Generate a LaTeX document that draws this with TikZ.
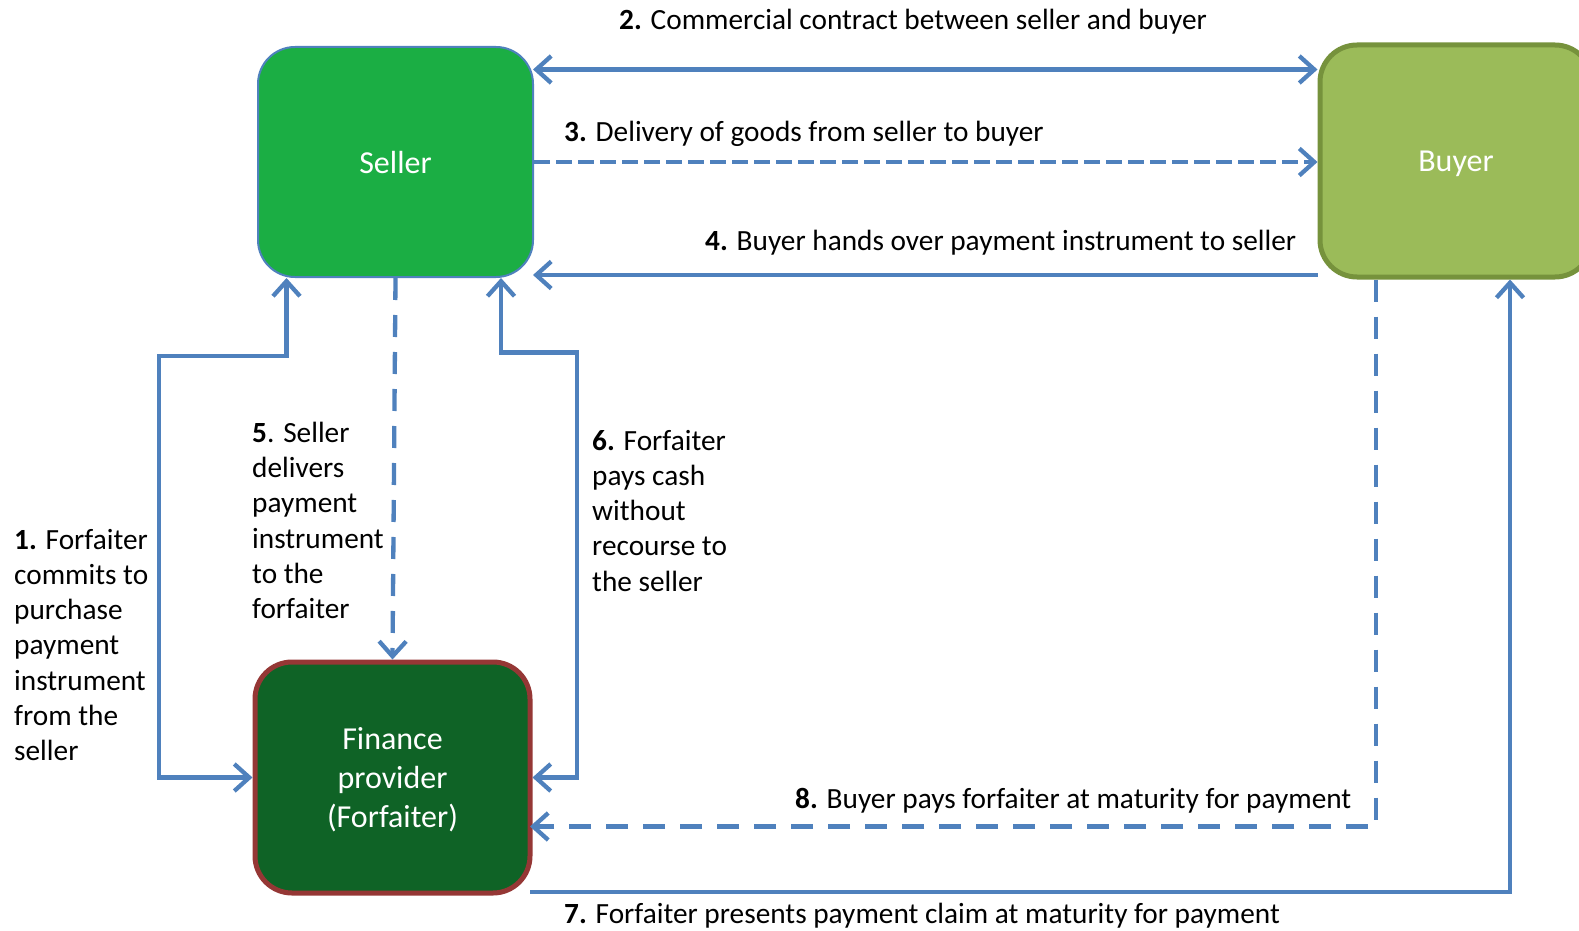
\documentclass[tikz,border=0pt]{standalone}
\usepackage{fontspec}
\setmainfont{Carlito}
\usetikzlibrary{arrows.meta}
\definecolor{arrblue}{HTML}{4F81BD}
\definecolor{sellerfill}{HTML}{1BAE44}
\definecolor{buyerfill}{HTML}{9BBB59}
\definecolor{buyerline}{HTML}{76923C}
\definecolor{finfill}{HTML}{0F6326}
\definecolor{finline}{HTML}{953735}
\tikzset{
  box/.style={rectangle, rounded corners=37pt, text=white, align=center,
    font=\fontsize{32}{39}\selectfont, inner sep=0pt, text depth=0pt},
  arr/.style={draw=arrblue, line width=4.3pt,
    arrows={-Straight Barb[length=15pt,width=27pt,line width=4.3pt]}},
  dual/.style={draw=arrblue, line width=4.3pt,
    arrows={Straight Barb[length=15pt,width=27pt,line width=4.3pt]-Straight Barb[length=15pt,width=27pt,line width=4.3pt]}},
  shortdash/.style={dash pattern=on 16pt off 6pt},
  longdash/.style={dash pattern=on 22pt off 15pt},
  lbl/.style={inner sep=0pt, font=\fontsize{29.3}{35.2}\selectfont, align=left, text=black}
}
\begin{document}
\begin{tikzpicture}[x=1pt,y=-1pt]
\useasboundingbox (0,0) rectangle (1579,931);
% boxes
\node[box, fill=sellerfill, draw=arrblue, line width=2pt, minimum width=275pt, minimum height=230pt] (seller) at (395.5,162) {Seller};
\node[box, fill=buyerfill, draw=buyerline, line width=5pt, minimum width=272pt, minimum height=232pt] (buyer) at (1456,161) {Buyer};
\node[box, fill=finfill, draw=finline, line width=5pt, minimum width=275pt, minimum height=231pt] (fin) at (392.5,777.5) {Finance\\provider\\(Forfaiter)};
% helper coordinates
\coordinate (s2) at (533,69.5);
\coordinate (s4) at (533,275);
\coordinate (a1) at (286.5,356);
\coordinate (b1) at (159,356);
\coordinate (c1) at (159,777.5);
\coordinate (a6) at (577,777.5);
\coordinate (b6) at (577,352.5);
\coordinate (c6) at (501,352.5);
\coordinate (a8) at (1376,826.5);
\coordinate (f8) at (530,826.5);
\coordinate (f7) at (530,892);
\coordinate (a7) at (1510,892);
% connectors
\draw[dual] (s2) -- (s2 -| buyer.west);
\draw[arr, shortdash] (seller.east) -- (seller.east -| buyer.west);
\draw[arr] (s4 -| buyer.west) -- (s4);
\draw[dual] (a1 |- seller.south) -- (a1) -- (b1) -- (c1) -- (fin.west);
\draw[arr, longdash] (seller.south) -- (fin.north);
\draw[dual] (fin.east) -- (a6) -- (b6) -- (c6) -- (c6 |- seller.south);
\draw[arr, longdash] (a8 |- buyer.south) -- (a8) -- (f8);
\draw[arr] (f7) -- (a7) -- (a7 |- buyer.south);
% labels
\node[lbl, anchor=west] (l2) at (619,22) {\textbf{2.} Commercial contract between seller and buyer};
\node[lbl, anchor=west] (l3) at (564,134) {\textbf{3.} Delivery of goods from seller to buyer};
\node[lbl, anchor=west] (l4) at (705,243) {\textbf{4.} Buyer hands over payment instrument to seller};
\node[lbl, anchor=west] (l8) at (795,801) {\textbf{8.} Buyer pays forfaiter at maturity for payment};
\node[lbl, anchor=west] (l7) at (564,916) {\textbf{7.} Forfaiter presents payment claim at maturity for payment};
\node[lbl, anchor=north west] (l5) at (252,422) {\textbf{5}. Seller\\delivers\\payment\\instrument\\to the\\forfaiter};
\node[lbl, anchor=north west] (l6) at (592,430) {\textbf{6.} Forfaiter\\pays cash\\without\\recourse to\\the seller};
\node[lbl, anchor=north west] (l1) at (14,529) {\textbf{1.} Forfaiter\\commits to\\purchase\\payment\\instrument\\from the\\seller};
\end{tikzpicture}
\end{document}
